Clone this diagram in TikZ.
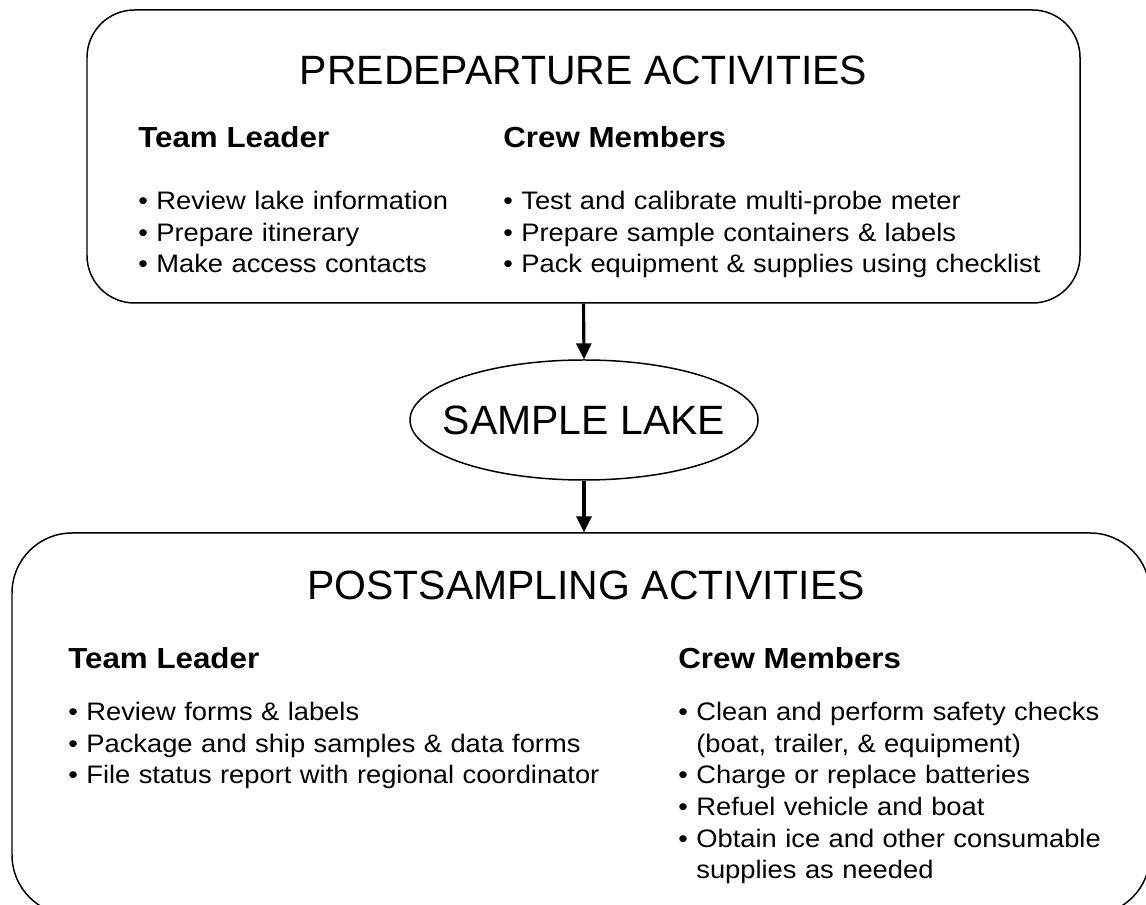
\documentclass[tikz,border=0pt]{standalone}
\usepackage{fontspec}
\setmainfont{Liberation Sans}
\newfontfamily\listfont[FakeStretch=1.08]{Liberation Sans}
\usetikzlibrary{arrows.meta,shapes.geometric}

\begin{document}
\begin{tikzpicture}[
    panel/.style={draw, line width=0.85pt, rounded corners=0.95cm},
    lakeshape/.style={draw, ellipse, line width=0.85pt, inner sep=0pt},
    bigtitle/.style={anchor=base, inner sep=0pt, font=\fontsize{23.3}{28}\selectfont},
    heading/.style={anchor=base west, inner sep=0pt,
                    font=\listfont\fontsize{16.5}{18}\selectfont\bfseries},
    items/.style={anchor=base west, inner sep=0pt, text width=11cm, align=left,
                  font=\listfont\fontsize{14.4}{18}\selectfont},
    flow/.style={line width=1.8pt, -{Triangle[length=9pt, width=8.5pt]}}
  ]
    \useasboundingbox (0, 0) rectangle (22.92, 18.1);
    \clip (0, 0) rectangle (22.92, 18.1);

    % the three shapes
    \node[panel, minimum width=19.86cm, minimum height=5.86cm] (pre) at (11.67, 14.97) {};
    \node[lakeshape, minimum width=6.96cm, minimum height=2.4cm] (lake) at (11.68, 9.7) {};
    \node[panel, rounded corners=1.2cm, minimum width=22.76cm, minimum height=7.64cm]
        (post) at (11.62, 3.62) {};

    \draw[flow] (pre.south) -- (lake.north);
    \draw[flow] (lake.south) -- (lake.south |- post.north);

    % before going out
    \node[bigtitle] (pretitle) at (11.67, 16.4) {PREDEPARTURE ACTIVITIES};
    \node[heading] (preleader) at (2.76, 15.14) {Team Leader};
    \node[heading] (precrew) at (10.06, 15.14) {Crew Members};
    \node[items] (preleaderlist) at (2.76, 13.91)
        {• Review lake information\\• Prepare itinerary\\• Make access contacts};
    \node[items] (precrewlist) at (10.06, 13.91)
        {• Test and calibrate multi-probe meter\\
         • Prepare sample containers \& labels\\
         • Pack equipment \& supplies using checklist};

    \node[bigtitle, anchor=center] (laketext) at (lake.center) {SAMPLE LAKE};

    % after coming back
    \node[bigtitle] (posttitle) at (11.72, 6.1) {POSTSAMPLING ACTIVITIES};
    \node[heading] (postleader) at (1.36, 4.72) {Team Leader};
    \node[heading] (postcrew) at (13.56, 4.72) {Crew Members};
    \node[items] (postleaderlist) at (1.36, 3.69)
        {• Review forms \& labels\\
         • Package and ship samples \& data forms\\
         • File status report with regional coordinator};
    \node[items, text width=9cm] (postcrewlist) at (13.56, 3.69)
        {• Clean and perform safety checks\\
         \hphantom{• }(boat, trailer, \& equipment)\\
         • Charge or replace batteries\\
         • Refuel vehicle and boat\\
         • Obtain ice and other consumable\\
         \hphantom{• }supplies as needed};
\end{tikzpicture}
\end{document}
